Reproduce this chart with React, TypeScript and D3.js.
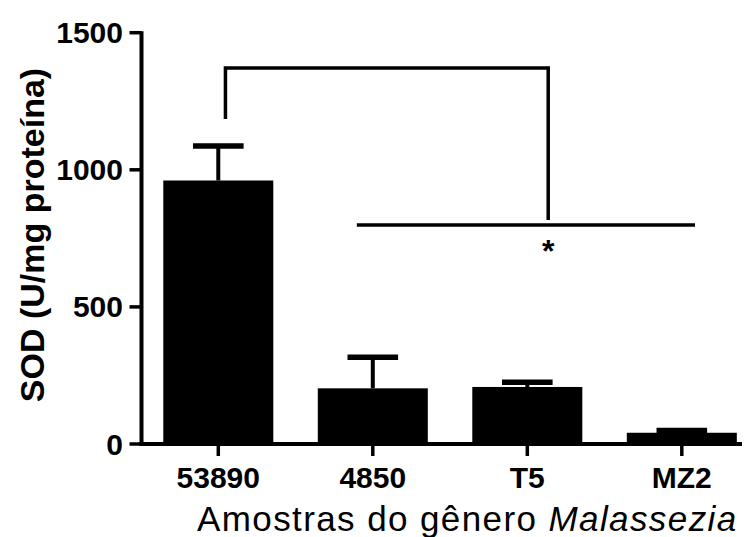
import { scaleBand, scaleLinear } from "d3";

const CATEGORIES = ["53890", "4850", "T5", "MZ2"];
const MEANS = [961, 203, 208, 41];
const ERRORS = [128, 115, 19, 10];
const Y_TICKS = [0, 500, 1000, 1500];

// significance annotation, in data units
const BRACKET_TOP = 1371;
const BRACKET_LEFT_END = 1185;
const BRACKET_RIGHT_END = 817;
const GROUP_LINE = 799;
const STAR_LEVEL = 665;

const FONT = "'Liberation Sans', Arial, Helvetica, sans-serif";

export default function App() {
  const width = 749;
  const height = 537;
  const axisX = 141.5;
  const axisY = 444;

  const y = scaleLinear().domain([0, 1500]).range([axisY, 32.7]);
  const x = scaleBand<string>()
    .domain(CATEGORIES)
    .range([axisX, 758.6])
    .paddingInner(0.288)
    .paddingOuter(0.141);
  const bw = x.bandwidth();
  const cx = (c: string) => (x(c) as number) + bw / 2;

  const bracketLeft = cx("53890") + bw * 0.065;
  const bracketRight = cx("T5") + bw * 0.19;
  const groupLeft = cx("4850") - bw * 0.145;
  const groupRight = cx("MZ2") + bw * 0.12;

  return (
    <div style={{ position: "absolute", left: 0, top: 0 }}>
      <svg width={width} height={height} style={{ display: "block", background: "#fff" }}>
        {/* bars */}
        {CATEGORIES.map((c, i) => (
          <rect key={c} x={x(c)} y={y(MEANS[i])} width={bw} height={axisY - y(MEANS[i])} fill="#000" />
        ))}

        {/* error bars */}
        {CATEGORIES.map((c, i) => {
          const top = y(MEANS[i] + ERRORS[i]);
          return (
            <g key={`err-${c}`} stroke="#000">
              <line x1={cx(c)} x2={cx(c)} y1={y(MEANS[i])} y2={top} strokeWidth={4} />
              <line x1={cx(c) - bw * 0.23} x2={cx(c) + bw * 0.23} y1={top + 0.5} y2={top + 0.5} strokeWidth={5.5} />
            </g>
          );
        })}

        {/* y axis */}
        <line x1={axisX} x2={axisX} y1={y(1500) - 1.5} y2={axisY + 2} stroke="#000" strokeWidth={4} />
        {Y_TICKS.map((t) => (
          <g key={t}>
            <line x1={axisX - 12} x2={axisX} y1={y(t)} y2={y(t)} stroke="#000" strokeWidth={3.5} />
            <text
              x={123}
              y={y(t) + 10.5}
              textAnchor="end"
              fontFamily={FONT}
              fontWeight="bold"
              fontSize={30}
            >
              {t}
            </text>
          </g>
        ))}

        {/* x axis */}
        <line x1={axisX - 2} x2={742} y1={axisY} y2={axisY} stroke="#000" strokeWidth={4} />
        {CATEGORIES.map((c) => (
          <g key={`xt-${c}`}>
            <line x1={cx(c)} x2={cx(c)} y1={axisY} y2={axisY + 12} stroke="#000" strokeWidth={3.5} />
            <text x={cx(c)} y={488} textAnchor="middle" fontFamily={FONT} fontWeight="bold" fontSize={30}>
              {c}
            </text>
          </g>
        ))}

        {/* axis titles */}
        <text
          transform="translate(43.5,235) rotate(-90)"
          textAnchor="middle"
          fontFamily={FONT}
          fontWeight="bold"
          fontSize={34}
        >
          SOD (U/mg proteína)
        </text>
        <text x={197} y={531} fontFamily={FONT} fontSize={35} letterSpacing={1.4}>
          Amostras do gênero <tspan fontStyle="italic">Malassezia</tspan>
        </text>

        {/* significance */}
        <path
          d={`M${bracketLeft},${y(BRACKET_LEFT_END)}V${y(BRACKET_TOP)}H${bracketRight}V${y(BRACKET_RIGHT_END)}`}
          fill="none"
          stroke="#000"
          strokeWidth={3.5}
        />
        <line x1={groupLeft} x2={groupRight} y1={y(GROUP_LINE)} y2={y(GROUP_LINE)} stroke="#000" strokeWidth={3.5} />
        <text
          x={bracketRight}
          y={y(STAR_LEVEL)}
          textAnchor="middle"
          fontFamily={FONT}
          fontWeight="bold"
          fontSize={32}
        >
          *
        </text>
      </svg>
    </div>
  );
}
